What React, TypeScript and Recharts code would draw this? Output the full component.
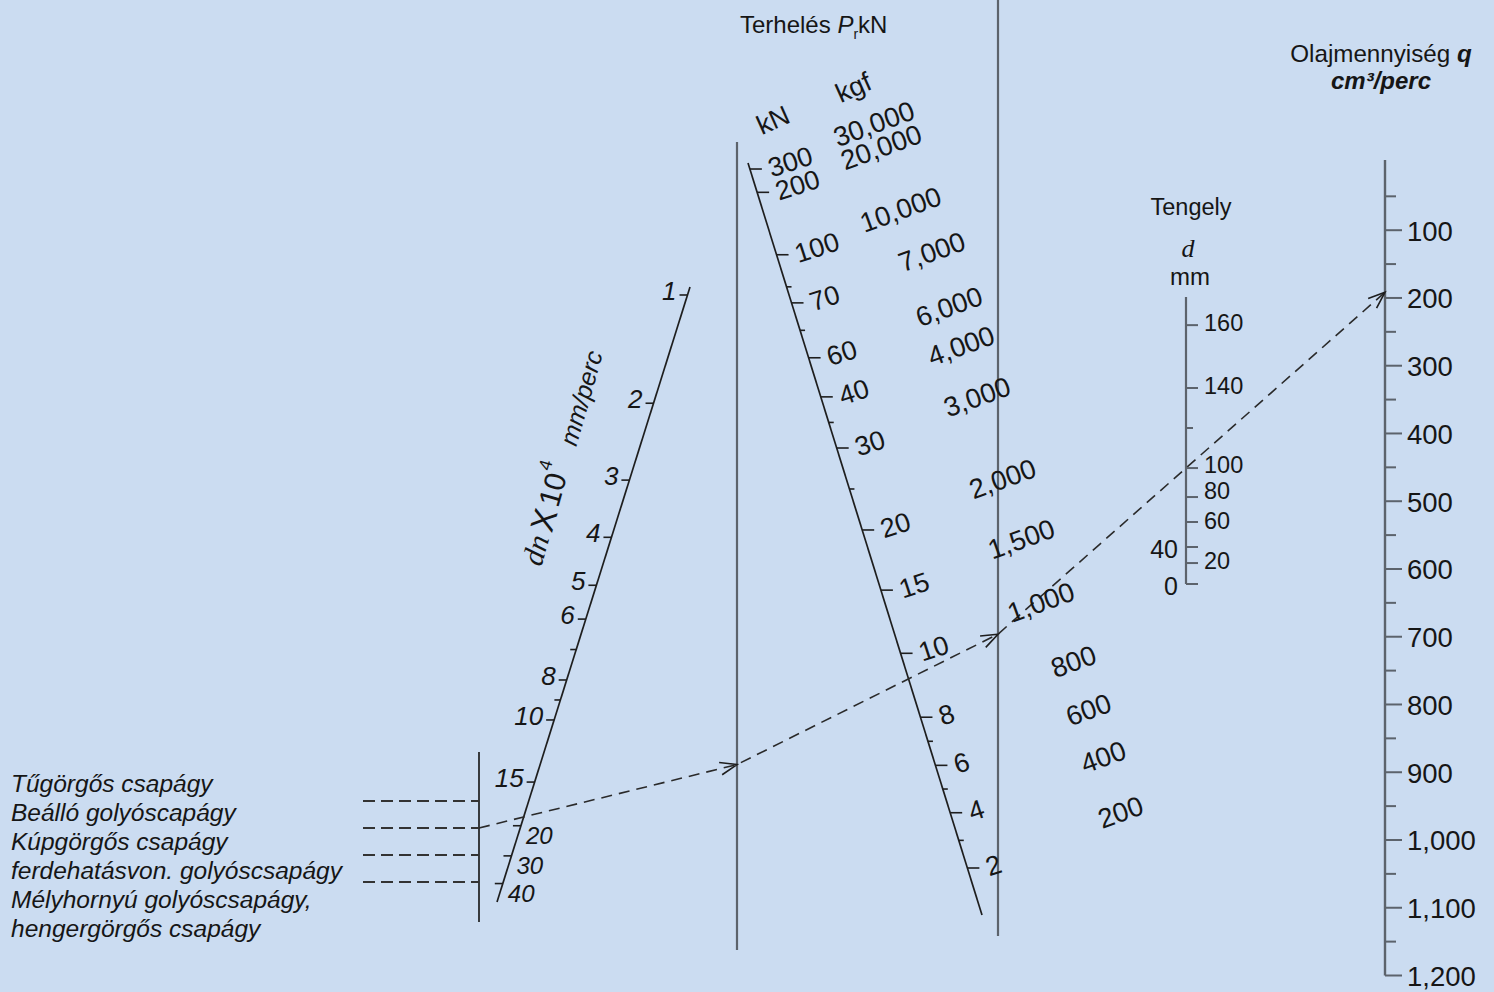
import React from "react";
import { ComposedChart, Line, Scatter, XAxis, YAxis } from "recharts";

// values printed on the nomogram
const bearingTypes = [
  "Tűgörgős csapágy",
  "Beálló golyóscapágy",
  "Kúpgörgős csapágy",
  "ferdehatásvon. golyóscsapágy",
  "Mélyhornyú golyóscsapágy,\nhengergörgős csapágy",
];
const dnTicks = [1, 2, 3, 4, 5, 6, 8, 10, 15, 20, 30, 40];
const dnMinorTicks = [7, 9];
const dnLabelsRight = [20, 30, 40];
const kNTicks = [300, 200, 100, 70, 60, 40, 30, 20, 15, 10, 8, 6, 4, 2];
const kNMinorTicks = [80, 65, 35, 25, 7, 5, 3];
const kgfTicks = [30000, 20000, 10000, 7000, 6000, 4000, 3000, 2000, 1500, 1000, 800, 600, 400, 200];
const dTicks = [160, 140, 100, 80, 60, 40, 20, 0];
const dMinorTicks = [120];
const dLabelsLeft = [40, 0];
const qTicks = [100, 200, 300, 400, 500, 600, 700, 800, 900, 1000, 1100, 1200];
const qMinorTicks = [50, 150, 250, 350, 450, 550, 650, 750, 850, 950, 1050, 1150];

// worked example (the dashed key line)
const exampleBearing = 1;
const exampleDn = 19;
const exampleLoad = 9.2;
const exampleShaft = 100;

const W = 1494;
const H = 992;
const BG = "#cbdcf1";
const INK = "#1e1e1e";
const GREY = "#5c636c";
const TEXT = "#161616";
const SANS = '"Liberation Sans", Arial, sans-serif';
const SERIF = '"Liberation Serif", "DejaVu Serif", serif';

type P = { x: number; y: number };
type Seg = { a: P; b: P };

// where each scale line sits on the sheet
const L: Record<string, Seg> = {
  type: { a: { x: 479, y: 752 }, b: { x: 479, y: 922 } },
  dn: { a: { x: 690, y: 287 }, b: { x: 497, y: 902 } },
  ref1: { a: { x: 737, y: 142 }, b: { x: 737, y: 950 } },
  kN: { a: { x: 748, y: 163 }, b: { x: 982, y: 915 } },
  ref2: { a: { x: 998, y: 0 }, b: { x: 998, y: 936 } },
  d: { a: { x: 1186, y: 297 }, b: { x: 1186, y: 584 } },
  q: { a: { x: 1385, y: 160 }, b: { x: 1385, y: 975.5 } },
};

// the printed scales are not uniform: calibrate value -> fraction along the line
function calibrate(vals: number[], fr: number[]) {
  return (v: number) => {
    for (let i = 0; i < vals.length - 1; i++) {
      const a = vals[i];
      const b = vals[i + 1];
      if ((v - a) * (v - b) <= 0) return fr[i] + ((fr[i + 1] - fr[i]) * (v - a)) / (b - a);
    }
    return fr[fr.length - 1];
  };
}
const dnCal = calibrate(dnTicks, [0.013, 0.189, 0.314, 0.407, 0.485, 0.54, 0.639, 0.704, 0.805, 0.876, 0.925, 0.97]);
const kNCal = calibrate(kNTicks, [0.008, 0.039, 0.122, 0.186, 0.259, 0.311, 0.379, 0.488, 0.568, 0.652, 0.737, 0.801, 0.864, 0.9375]);
const dCal = calibrate(dTicks, [0.098, 0.317, 0.596, 0.697, 0.784, 0.871, 0.927, 1]);
const qCal = calibrate([0, 1200], [0.003, 1]);
const stubFrac = (i: number) => 0.288 + 0.159 * i;

const lerp = (s: Seg, t: number): P => ({ x: s.a.x + (s.b.x - s.a.x) * t, y: s.a.y + (s.b.y - s.a.y) * t });
const dnPos = (v: number) => lerp(L.dn, dnCal(v));
const kNPos = (v: number) => lerp(L.kN, kNCal(v));
const dPos = (v: number) => lerp(L.d, dCal(v));
const qPos = (v: number) => lerp(L.q, qCal(v));
const atX = (p0: P, p1: P, x: number): P => ({ x, y: p0.y + ((x - p0.x) * (p1.y - p0.y)) / (p1.x - p0.x) });
const fmt = (v: number) => v.toLocaleString("en-US");

type Mark = P & { kind: string; [k: string]: any };
const marks: Mark[] = [];
const lines: { pts: P[]; color: string; w: number; dash?: string }[] = [];

const tick = (p: P, dx: number, color = INK, w = 1.6) => marks.push({ ...p, kind: "tick", dx, dy: 0, color, w });
const label = (p: P, text: string, opt: Record<string, any> = {}) => marks.push({ ...p, kind: "text", text, ...opt });
const rich = (p: P, draw: (x: number, y: number) => React.ReactElement) => marks.push({ ...p, kind: "rich", draw });

// scale lines
lines.push({ pts: [L.type.a, L.type.b], color: INK, w: 1.7 });
lines.push({ pts: [L.dn.a, L.dn.b], color: INK, w: 1.7 });
lines.push({ pts: [L.ref1.a, L.ref1.b], color: GREY, w: 2.2 });
lines.push({ pts: [L.kN.a, L.kN.b], color: INK, w: 1.7 });
lines.push({ pts: [L.ref2.a, L.ref2.b], color: GREY, w: 2.2 });
lines.push({ pts: [L.d.a, L.d.b], color: GREY, w: 2.2 });
lines.push({ pts: [L.q.a, L.q.b], color: GREY, w: 2.4 });

// bearing types
for (let i = 0; i < bearingTypes.length - 1; i++) {
  const p = lerp(L.type, stubFrac(i));
  lines.push({ pts: [{ x: 363, y: p.y }, p], color: "#333", w: 1.9, dash: "12 6" });
}
bearingTypes
  .flatMap((t) => t.split("\n"))
  .forEach((t, j) => label({ x: 11, y: 792 + 29 * j }, t, { size: 24.5, italic: true, baseline: "alphabetic" }));

// dn scale
dnTicks.forEach((v) => {
  const p = dnPos(v);
  tick(p, -8);
  if (dnLabelsRight.includes(v)) label({ x: p.x + 5, y: p.y + 10 }, String(v), { size: 24, italic: true });
  else label({ x: p.x - 11, y: p.y - 4 }, String(v), { size: 26, italic: true, anchor: "end" });
});
dnMinorTicks.forEach((v) => tick(dnPos(v), -6));
rich({ x: 545, y: 514 }, (x, y) => (
  <text x={x} y={y} textAnchor="middle" dominantBaseline="central" fill={TEXT} transform={`rotate(-74 ${x} ${y})`} fontFamily={SANS} fontSize={30}>
    <tspan fontFamily={SERIF} fontStyle="italic" fontSize={30}>dn</tspan>
    <tspan dx={5} fontSize={33}>X</tspan>
    <tspan dx={4}>10</tspan>
    <tspan fontSize={18} dy={-13}>4</tspan>
  </text>
));
label({ x: 581, y: 398 }, "mm/perc", { size: 25, italic: true, anchor: "middle", rot: -74 });

// load scale, kN and kgf
kNTicks.forEach((v) => {
  const p = kNPos(v);
  tick(p, 12);
  label({ x: p.x + 19, y: p.y }, String(v), { size: 27, rot: -18 });
});
kNMinorTicks.forEach((v) => tick(kNPos(v), 5));
kgfTicks.forEach((k) => {
  const p = kNPos(k / 100);
  const d = 65 + 25 * (4 - String(k / 100).length);
  const r = (20 * Math.PI) / 180;
  label({ x: p.x + d * Math.cos(r), y: p.y - d * Math.sin(r) }, fmt(k), { size: 27.5, rot: -20 });
});
label({ x: 758, y: 127 }, "kN", { size: 27, rot: -24 });
label({ x: 837, y: 95 }, "kgf", { size: 27, rot: -24 });
rich({ x: 740, y: 33 }, (x, y) => (
  <text x={x} y={y} fill={TEXT} fontFamily={SANS} fontSize={24}>
    Terhelés <tspan fontStyle="italic">P</tspan>
    <tspan fontSize={14} dy={6}>r</tspan>
    <tspan dy={-6}>kN</tspan>
  </text>
));

// shaft diameter scale (80 and 60 sit close, nudge their labels apart)
const dNudge: Record<number, number> = { 100: -3, 80: -6, 60: -1 };
dTicks.forEach((v) => {
  const p = dPos(v);
  tick(p, 12, GREY, 2);
  if (dLabelsLeft.includes(v)) label({ x: p.x - 8, y: p.y + 2 }, String(v), { size: 25, anchor: "end" });
  else label({ x: p.x + 18, y: p.y + (dNudge[v] ?? -2) }, String(v), { size: 23.5 });
});
dMinorTicks.forEach((v) => tick(dPos(v), 7, GREY, 2));
label({ x: 1191, y: 215 }, "Tengely", { size: 23.5, anchor: "middle", baseline: "alphabetic" });
label({ x: 1188, y: 257 }, "d", { size: 26, anchor: "middle", baseline: "alphabetic", italic: true, family: SERIF });
label({ x: 1190, y: 285 }, "mm", { size: 24, anchor: "middle", baseline: "alphabetic" });

// oil quantity scale
qTicks.forEach((v) => {
  const p = qPos(v);
  tick(p, 17, GREY, 2);
  label({ x: p.x + 22, y: p.y + 1 }, fmt(v), { size: 27.5 });
});
qMinorTicks.forEach((v) => tick(qPos(v), 11, GREY, 2));
rich({ x: 1381, y: 62 }, (x, y) => (
  <text x={x} y={y} textAnchor="middle" fill={TEXT} fontFamily={SANS} fontSize={24.2}>
    Olajmennyiség <tspan fontStyle="italic" fontWeight={700}>q</tspan>
  </text>
));
label({ x: 1381, y: 89 }, "cm³/perc", { size: 24, anchor: "middle", baseline: "alphabetic", italic: true, bold: true });

// example key line
const p0 = lerp(L.type, stubFrac(exampleBearing));
const p1 = atX(p0, dnPos(exampleDn), L.ref1.a.x);
const p2 = atX(p1, kNPos(exampleLoad), L.ref2.a.x);
const p3 = atX(p2, dPos(exampleShaft), L.q.a.x);
lines.push({ pts: [p0, p1, p2, p3], color: "#2a2a2a", w: 1.6, dash: "11 7" });
[
  [p0, p1],
  [p1, p2],
  [p2, p3],
].forEach(([a, b]) => marks.push({ ...b, kind: "arrow", angle: Math.atan2(b.y - a.y, b.x - a.x) }));

function renderMark(props: any) {
  const { cx, cy } = props;
  const m = (props.payload ?? props) as Mark;
  if (cx == null || cy == null || !m) return <g />;
  if (m.kind === "tick")
    return <line x1={cx} y1={cy} x2={cx + m.dx} y2={cy + m.dy} stroke={m.color} strokeWidth={m.w} />;
  if (m.kind === "rich") return m.draw(cx, cy);
  if (m.kind === "arrow") {
    const len = 18;
    const s = 0.36;
    const a1x = cx - len * Math.cos(m.angle - s);
    const a1y = cy - len * Math.sin(m.angle - s);
    const a2x = cx - len * Math.cos(m.angle + s);
    const a2y = cy - len * Math.sin(m.angle + s);
    return <path d={`M${a1x},${a1y} L${cx},${cy} L${a2x},${a2y}`} fill="none" stroke={INK} strokeWidth={1.6} />;
  }
  return (
    <text
      x={cx}
      y={cy}
      fill={TEXT}
      fontFamily={m.family ?? SANS}
      fontSize={m.size}
      fontStyle={m.italic ? "italic" : "normal"}
      fontWeight={m.bold ? 700 : 400}
      textAnchor={m.anchor ?? "start"}
      dominantBaseline={m.baseline ?? "central"}
      transform={m.rot ? `rotate(${m.rot} ${cx} ${cy})` : undefined}
    >
      {m.text}
    </text>
  );
}

export default function App() {
  return (
    <div style={{ position: "absolute", left: 0, top: 0, width: W, height: H, background: BG }}>
      <ComposedChart width={W} height={H} margin={{ top: 0, right: 0, bottom: 0, left: 0 }}>
        <XAxis type="number" dataKey="x" domain={[0, W]} allowDataOverflow hide />
        <YAxis type="number" dataKey="y" domain={[0, H]} allowDataOverflow reversed hide />
        {lines.map((l, i) => (
          <Line
            key={i}
            data={l.pts}
            dataKey="y"
            stroke={l.color}
            strokeWidth={l.w}
            strokeDasharray={l.dash}
            dot={false}
            activeDot={false}
            legendType="none"
            isAnimationActive={false}
          />
        ))}
        <Scatter data={marks} shape={renderMark} isAnimationActive={false} />
      </ComposedChart>
    </div>
  );
}
